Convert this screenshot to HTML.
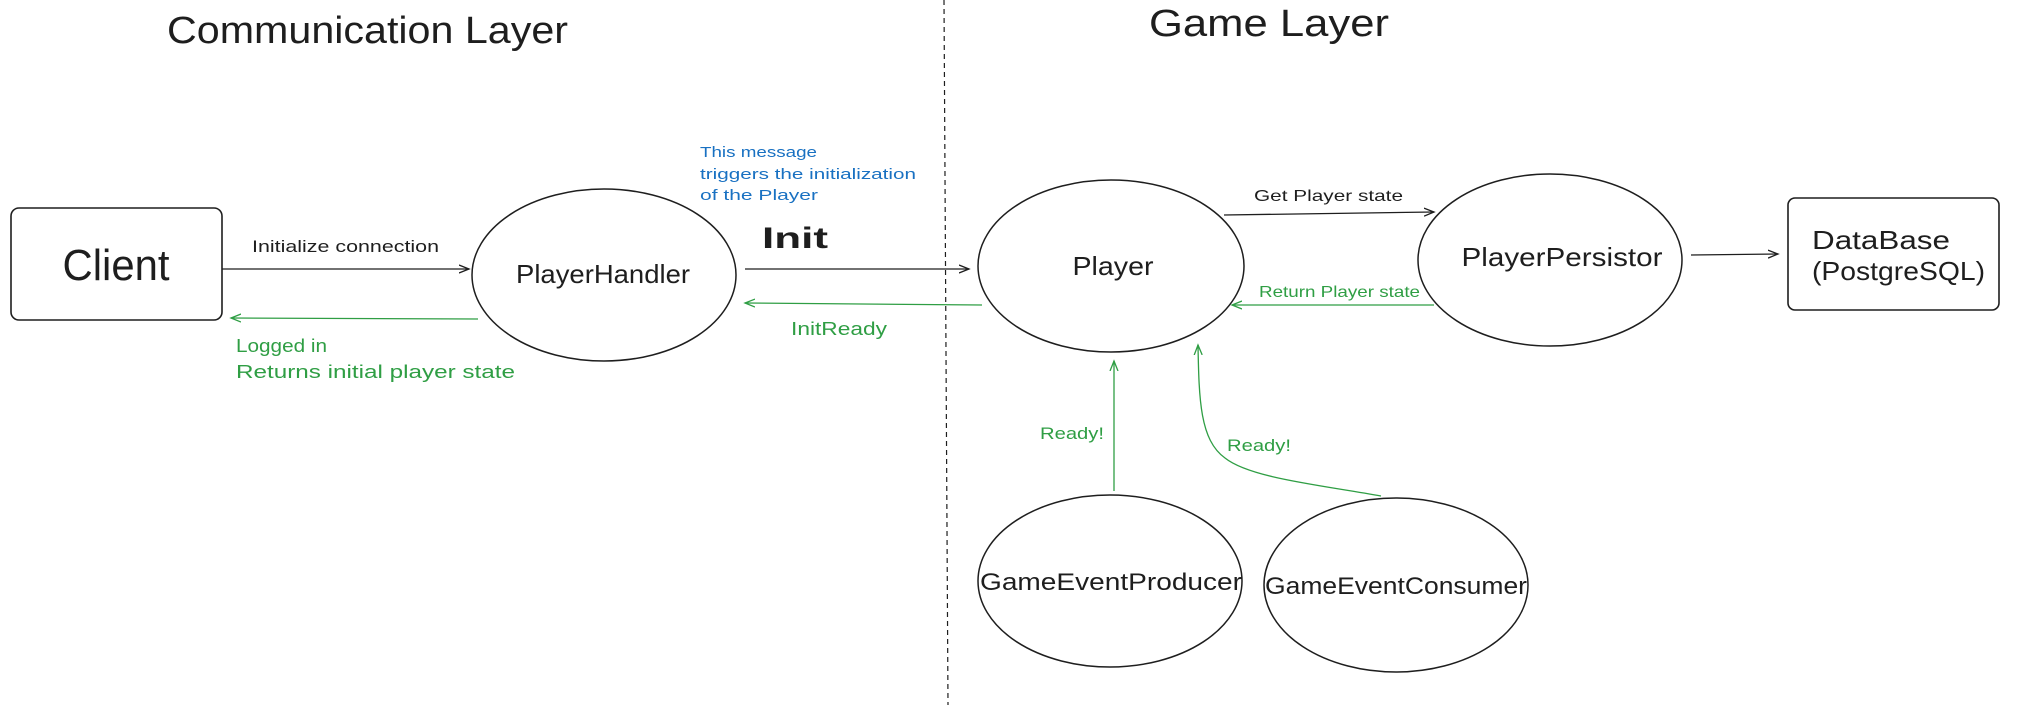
<!DOCTYPE html>
<html><head><meta charset="utf-8"><style>
html,body{margin:0;padding:0;background:#fff;}
svg{display:block}
text{font-family:"Liberation Sans",sans-serif;}
</style></head><body>
<svg width="2017" height="705" viewBox="0 0 2017 705" xmlns="http://www.w3.org/2000/svg">
<defs>
<marker id="ab" markerWidth="12" markerHeight="10" refX="10" refY="5" orient="auto" markerUnits="userSpaceOnUse"><path d="M0,1 L10,5 L0,9" fill="none" stroke="#1e1e1e" stroke-width="1.3"/></marker>
<marker id="ag" markerWidth="12" markerHeight="10" refX="10" refY="5" orient="auto" markerUnits="userSpaceOnUse"><path d="M0,1 L10,5 L0,9" fill="none" stroke="#2f9e44" stroke-width="1.3"/></marker>
</defs>
<!-- titles -->
<text x="167" y="43" font-size="38" fill="#1e1e1e" textLength="401" lengthAdjust="spacingAndGlyphs">Communication Layer</text>
<text x="1149" y="36" font-size="38" fill="#1e1e1e" textLength="240" lengthAdjust="spacingAndGlyphs">Game Layer</text>
<!-- dashed divider -->
<line x1="944" y1="0" x2="948" y2="705" stroke="#1e1e1e" stroke-width="1.2" stroke-dasharray="5,4"/>
<!-- Client -->
<rect x="11" y="208" width="211" height="112" rx="8" fill="none" stroke="#1e1e1e" stroke-width="1.6"/>
<text x="116" y="280" font-size="44" text-anchor="middle" fill="#1e1e1e" textLength="107" lengthAdjust="spacingAndGlyphs">Client</text>
<!-- PlayerHandler -->
<ellipse cx="604" cy="275" rx="132" ry="86" fill="none" stroke="#1e1e1e" stroke-width="1.5"/>
<text x="603" y="283" font-size="26" text-anchor="middle" fill="#1e1e1e" textLength="174" lengthAdjust="spacingAndGlyphs">PlayerHandler</text>
<!-- client <-> handler -->
<line x1="222" y1="269" x2="469" y2="269" stroke="#1e1e1e" stroke-width="1.3" marker-end="url(#ab)"/>
<text x="252" y="252" font-size="17" fill="#1e1e1e" textLength="187" lengthAdjust="spacingAndGlyphs">Initialize connection</text>
<line x1="478" y1="319" x2="231" y2="318" stroke="#2f9e44" stroke-width="1.3" marker-end="url(#ag)"/>
<text x="236" y="352" font-size="18" fill="#2f9e44" textLength="91" lengthAdjust="spacingAndGlyphs">Logged in</text>
<text x="236" y="378" font-size="18" fill="#2f9e44" textLength="279" lengthAdjust="spacingAndGlyphs">Returns initial player state</text>
<!-- blue note -->
<text x="700" y="157" font-size="15" fill="#1971c2" textLength="117" lengthAdjust="spacingAndGlyphs">This message</text>
<text x="700" y="179" font-size="15" fill="#1971c2" textLength="216" lengthAdjust="spacingAndGlyphs">triggers the initialization</text>
<text x="700" y="200" font-size="15" fill="#1971c2" textLength="118" lengthAdjust="spacingAndGlyphs">of the Player</text>
<text x="762" y="248" font-size="30" font-weight="bold" fill="#1e1e1e" textLength="66" lengthAdjust="spacingAndGlyphs">Init</text>
<line x1="745" y1="269" x2="969" y2="269" stroke="#1e1e1e" stroke-width="1.3" marker-end="url(#ab)"/>
<line x1="982" y1="305" x2="745" y2="303" stroke="#2f9e44" stroke-width="1.3" marker-end="url(#ag)"/>
<text x="791" y="335" font-size="18" fill="#2f9e44" textLength="96" lengthAdjust="spacingAndGlyphs">InitReady</text>
<!-- Player -->
<ellipse cx="1111" cy="266" rx="133" ry="86" fill="none" stroke="#1e1e1e" stroke-width="1.5"/>
<text x="1113" y="275" font-size="26" text-anchor="middle" fill="#1e1e1e" textLength="81" lengthAdjust="spacingAndGlyphs">Player</text>
<!-- PlayerPersistor -->
<ellipse cx="1550" cy="260" rx="132" ry="86" fill="none" stroke="#1e1e1e" stroke-width="1.5"/>
<text x="1562" y="266" font-size="26" text-anchor="middle" fill="#1e1e1e" textLength="201" lengthAdjust="spacingAndGlyphs">PlayerPersistor</text>
<line x1="1224" y1="215" x2="1434" y2="212" stroke="#1e1e1e" stroke-width="1.3" marker-end="url(#ab)"/>
<text x="1254" y="201" font-size="16" fill="#1e1e1e" textLength="149" lengthAdjust="spacingAndGlyphs">Get Player state</text>
<line x1="1434" y1="305" x2="1232" y2="305" stroke="#2f9e44" stroke-width="1.3" marker-end="url(#ag)"/>
<text x="1259" y="297" font-size="16" fill="#2f9e44" textLength="161" lengthAdjust="spacingAndGlyphs">Return Player state</text>
<!-- DB -->
<line x1="1691" y1="255" x2="1778" y2="254" stroke="#1e1e1e" stroke-width="1.3" marker-end="url(#ab)"/>
<rect x="1788" y="198" width="211" height="112" rx="7" fill="none" stroke="#1e1e1e" stroke-width="1.6"/>
<text x="1812" y="249" font-size="26" fill="#1e1e1e" textLength="138" lengthAdjust="spacingAndGlyphs">DataBase</text>
<text x="1812" y="280" font-size="26" fill="#1e1e1e" textLength="173" lengthAdjust="spacingAndGlyphs">(PostgreSQL)</text>
<!-- producers -->
<ellipse cx="1110" cy="581" rx="132" ry="86" fill="none" stroke="#1e1e1e" stroke-width="1.5"/>
<text x="1111" y="590" font-size="24" text-anchor="middle" fill="#1e1e1e" textLength="262" lengthAdjust="spacingAndGlyphs">GameEventProducer</text>
<ellipse cx="1396" cy="585" rx="132" ry="87" fill="none" stroke="#1e1e1e" stroke-width="1.5"/>
<text x="1396" y="594" font-size="24" text-anchor="middle" fill="#1e1e1e" textLength="262" lengthAdjust="spacingAndGlyphs">GameEventConsumer</text>
<line x1="1114" y1="491" x2="1114" y2="361" stroke="#2f9e44" stroke-width="1.3" marker-end="url(#ag)"/>
<text x="1040" y="439" font-size="17" fill="#2f9e44" textLength="64" lengthAdjust="spacingAndGlyphs">Ready!</text>
<path d="M1381,496 C1320,485 1250,478 1225,458 C1200,440 1199,400 1198,345" fill="none" stroke="#2f9e44" stroke-width="1.3" marker-end="url(#ag)"/>
<text x="1227" y="451" font-size="17" fill="#2f9e44" textLength="64" lengthAdjust="spacingAndGlyphs">Ready!</text>
</svg>
</body></html>
